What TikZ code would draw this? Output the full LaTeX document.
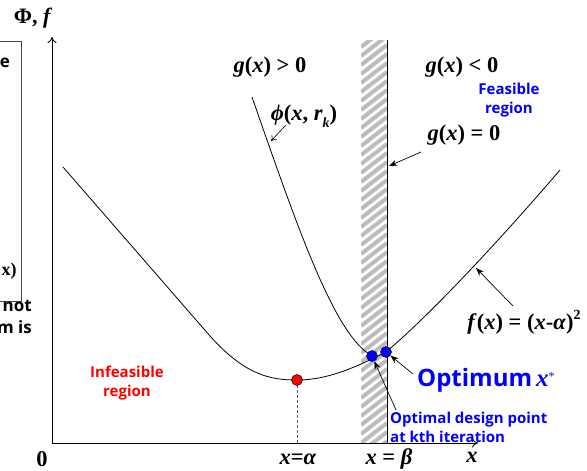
\documentclass[tikz,border=0pt]{standalone}
\usepackage{fontspec}
\setmainfont{Liberation Serif}
\newfontfamily\sansfont{Open Sans}
\usetikzlibrary{arrows.meta}
\newcommand\mbi[1]{\textbf{\textit{#1}}}
\definecolor{stripegray}{RGB}{188,188,188}
\definecolor{boxgray}{RGB}{70,70,70}
\begin{document}
\begin{tikzpicture}[x=1pt,y=-1pt,
  axis/.style={line width=0.9pt,-{To[length=6pt,width=9pt]}},
  curve/.style={line width=0.8pt},
  ptr/.style={line width=0.7pt,-{Stealth[length=8pt,width=6pt]}},
  optr/.style={line width=0.6pt,-{To[length=5pt,width=7pt]}},
  mathlab/.style={inner sep=0pt,font=\fontsize{22.5}{24}\selectfont\bfseries},
  sanslab/.style={inner sep=0pt,font=\sansfont\fontsize{15}{19}\selectfont\bfseries,align=center},
  fraglab/.style={inner sep=0pt,font=\sansfont\fontsize{17}{19}\selectfont\bfseries},
  stripe/.style={stripegray,line width=4pt},
  dot/.style={circle,draw=black,line width=0.5pt,inner sep=0pt,minimum size=11pt}
]
\useasboundingbox (0,0) rectangle (587,471);
% left box fragment
\draw[boxgray,line width=0.8pt] (0,41) -- (21,41) -- (21,301) -- (0,301);
\node[fraglab] (fe) at (5,63) {e};
\node[inner sep=0pt,font=\fontsize{18}{20}\selectfont\bfseries] (fx) at (9,271) {x)};
\node[fraglab,anchor=east] (fnot) at (32,306) {not};
\node[fraglab,anchor=east] (fmis) at (32,327) {m is};
% hatched band
\begin{scope}
  \clip (361,40) rectangle (387,443);
  \foreach \yy in {20,29,...,470} \draw[stripe] (361,\yy) -- (387,\yy-20);
\end{scope}
\coordinate (bTop) at (387,40);
\coordinate (bBot) at (387,443);
\draw[line width=0.9pt] (bTop) -- (bBot);
% axes
\coordinate (O) at (52,443);
\coordinate (yEnd) at (52,37);
\coordinate (xEnd) at (478,443);
\draw[axis] (O) -- (yEnd);
\draw[axis] (O) -- (xEnd);
% dashed
\coordinate (alphaTop) at (297,380);
\coordinate (alphaBot) at (297,443);
\draw[line width=0.7pt,gray!70!black,dash pattern=on 3pt off 2pt] (alphaTop) -- (alphaBot);
% f curve
\draw[curve] (63,167) -- (210,336) .. controls (245,375) and (270,380) .. (297,380)
  .. controls (330,380) and (360,365) .. (386,352)
  .. controls (430,315) and (500,240) .. (560,170);
% phi curve
\draw[curve] (252,97) .. controls (300,235) and (335,335) .. (372,356);
% dots
\node[dot,fill=red] (minpt) at (297,380) {};
\node[dot,fill=blue] (kpt) at (372,356) {};
\node[dot,fill=blue] (optpt) at (386,352) {};
% labels
\node[inner sep=0pt,font=\fontsize{22}{24}\selectfont\bfseries] (ylab) at (33,18) {Φ, \textit{f}};
\node[mathlab] (gpos) at (270,67) {\mbi{g}(\mbi{x}) > 0};
\node[mathlab] (gneg) at (462,67) {\mbi{g}(\mbi{x}) < 0};
\node[mathlab] (gzero) at (464,135) {\mbi{g}(\mbi{x}) = 0};
\node[mathlab] (phil) at (304,116) {\mbi{ϕ}(\mbi{x}, \mbi{r}\raisebox{-0.3em}{\fontsize{14}{14}\selectfont\mbi{k}})};
\node[mathlab] (flab) at (524,322) {\mbi{f}(\mbi{x}) = (\mbi{x}-\mbi{α})\raisebox{0.45em}{\fontsize{14}{14}\selectfont\textbf{2}}};
\node[mathlab] (zero) at (42,459) {0};
\node[mathlab] (xal) at (298,459) {\mbi{x}=\mbi{α}};
\node[mathlab] (xbe) at (389,459) {\mbi{x} = \mbi{β}};
\node[mathlab] (xl) at (472,457) {\mbi{x}};
\node[sanslab,blue] (feas) at (509,100) {Feasible\\region};
\node[sanslab,red] (infeas) at (127,383) {Infeasible\\region};
\node[inner sep=0pt,blue,anchor=west] (optl) at (417,380) {{\sansfont\fontsize{24}{26}\selectfont\bfseries Optimum}\hspace{4pt}{\fontsize{25}{26}\selectfont\mbi{x}}\raisebox{0.6em}{\fontsize{12}{12}\selectfont *}};
\node[sanslab,blue,align=left,anchor=west] (kth) at (390,427) {Optimal design point\\at kth iteration};
% pointers
\coordinate (phiS) at (286,125); \coordinate (phiE) at (271,141);
\draw[optr] (phiS) -- (phiE);
\coordinate (gzS) at (421,152); \coordinate (gzE) at (389,166);
\draw[ptr] (gzS) -- (gzE);
\coordinate (fS) at (513,306); \coordinate (fE) at (476,268);
\draw[ptr] (fS) -- (fE);
\coordinate (oS) at (413,374);
\draw[ptr] (oS) -- (optpt);
\coordinate (kS) at (396,410);
\draw[ptr] (kS) -- (kpt);
\end{tikzpicture}
\end{document}
